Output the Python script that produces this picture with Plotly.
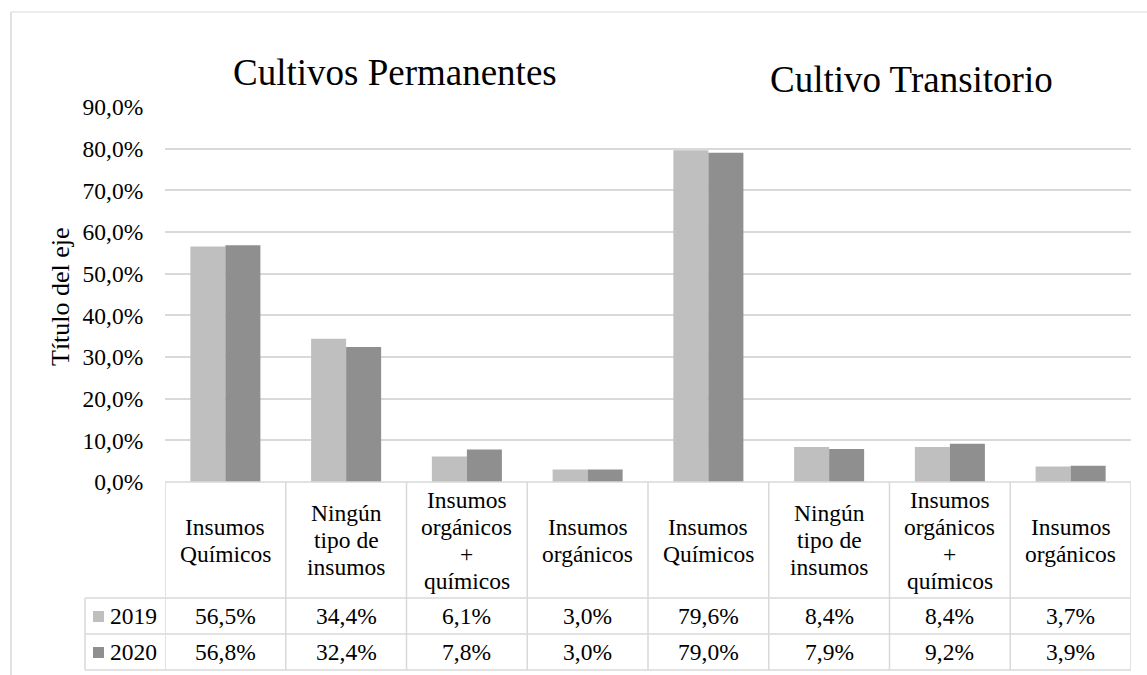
import plotly.graph_objects as go

# ---------------- data ----------------
categories = [
    "Insumos<br>Químicos",
    "Ningún<br>tipo de<br>insumos",
    "Insumos<br>orgánicos<br>+<br>químicos",
    "Insumos<br>orgánicos",
    "Insumos<br>Químicos",
    "Ningún<br>tipo de<br>insumos",
    "Insumos<br>orgánicos<br>+<br>químicos",
    "Insumos<br>orgánicos",
]
group_titles = ["Cultivos Permanentes", "Cultivo Transitorio"]
series_names = ["2019", "2020"]
values_2019 = [56.5, 34.4, 6.1, 3.0, 79.6, 8.4, 8.4, 3.7]
values_2020 = [56.8, 32.4, 7.8, 3.0, 79.0, 7.9, 9.2, 3.9]
y_axis_title = "Título del eje"

# ---------------- layout helpers ----------------
W, H = 1147, 675
FONT = "Liberation Serif"
GRID = "#D9D9D9"
COLORS = ["#BFBFBF", "#8F8F8F"]


def px(x):
    return x / W


def py(y):
    return 1 - y / H


PLOT_L, PLOT_R = 165, 1131
PLOT_T, PLOT_B = 107, 482
ROW1, ROW2, ROW3 = 598, 634, 670
LEG_L = 85
LINE_STEP = 27

xs = list(range(len(categories)))
series = [values_2019, values_2020]

fig = go.Figure()
for name, vals, col in zip(series_names, series, COLORS):
    fig.add_trace(go.Bar(
        x=xs, y=[v / 100 for v in vals], name=name,
        marker=dict(color=col, line=dict(width=0)),
        hoverinfo="skip",
    ))

shapes = []
ann = []
line = dict(color=GRID, width=1.5)

n = len(categories)
for i in range(n + 1):
    shapes.append(dict(type="line", xref="x", yref="paper",
                       x0=i - 0.5, x1=i - 0.5, y0=py(PLOT_B), y1=py(ROW3), line=line))
shapes.append(dict(type="line", xref="paper", yref="paper",
                   x0=px(PLOT_L), x1=px(PLOT_R), y0=py(PLOT_B), y1=py(PLOT_B), line=line))
for yy in (ROW1, ROW2, ROW3):
    shapes.append(dict(type="line", xref="paper", yref="paper",
                       x0=px(LEG_L), x1=px(PLOT_R), y0=py(yy), y1=py(yy), line=line))
shapes.append(dict(type="line", xref="paper", yref="paper",
                   x0=px(LEG_L), x1=px(LEG_L), y0=py(ROW1), y1=py(ROW3), line=line))
# outer chart frame (cropped by the image edges)
shapes.append(dict(type="line", xref="paper", yref="paper",
                   x0=px(11), x1=px(11), y0=py(12), y1=0, line=dict(color=GRID, width=1.5)))
shapes.append(dict(type="line", xref="paper", yref="paper",
                   x0=px(11), x1=1, y0=py(12), y1=py(12), line=dict(color="#E6E6E6", width=1.5)))

row_centers = [(ROW1 + ROW2) / 2, (ROW2 + ROW3) / 2]
for name, col, yc in zip(series_names, COLORS, row_centers):
    shapes.append(dict(type="rect", xref="paper", yref="paper",
                       x0=px(93), x1=px(104), y0=py(yc + 6), y1=py(yc - 5),
                       fillcolor=col, line=dict(width=0)))
    ann.append(dict(xref="paper", yref="paper", x=px(108), y=py(yc),
                    xanchor="left", yanchor="middle", text=name, showarrow=False,
                    font=dict(family=FONT, size=23.5, color="#000")))

# category labels, one annotation per text line
hdr_c = (PLOT_B + ROW1) / 2
for i, c in enumerate(categories):
    parts = c.split("<br>")
    m = len(parts)
    for k, part in enumerate(parts):
        yc = hdr_c + (k - (m - 1) / 2) * LINE_STEP
        ann.append(dict(xref="x", yref="paper", x=i, y=py(yc),
                        xanchor="center", yanchor="middle", text=part, showarrow=False,
                        font=dict(family=FONT, size=23.5, color="#000")))

for vals, yc in zip(series, row_centers):
    for i, v in enumerate(vals):
        ann.append(dict(xref="x", yref="paper", x=i, y=py(yc),
                        xanchor="center", yanchor="middle",
                        text=f"{v:.1f}%".replace(".", ","), showarrow=False,
                        font=dict(family=FONT, size=23.5, color="#000")))

ann.append(dict(xref="paper", yref="paper", x=px(395), y=py(73),
                xanchor="center", yanchor="middle", text=group_titles[0], showarrow=False,
                font=dict(family=FONT, size=37, color="#000")))
ann.append(dict(xref="paper", yref="paper", x=px(911), y=py(79),
                xanchor="center", yanchor="middle", text=group_titles[1], showarrow=False,
                font=dict(family=FONT, size=37, color="#000")))

ann.append(dict(xref="paper", yref="paper", x=px(60), y=py(296),
                xanchor="center", yanchor="middle", text=y_axis_title, textangle=-90,
                showarrow=False, font=dict(family=FONT, size=26, color="#000")))

fig.update_layout(
    width=W, height=H,
    margin=dict(l=0, r=0, t=0, b=0, pad=0, autoexpand=False),
    paper_bgcolor="white", plot_bgcolor="white",
    separators=",.",
    barmode="group", bargap=0.42, bargroupgap=0,
    showlegend=False,
    font=dict(family=FONT, color="#000"),
    xaxis=dict(domain=[px(PLOT_L), px(PLOT_R)], range=[-0.5, n - 0.5],
               showticklabels=False, showgrid=False, zeroline=False, showline=False,
               automargin=False, fixedrange=True),
    yaxis=dict(domain=[py(PLOT_B), py(PLOT_T)], range=[0, 0.9],
               tickvals=[i / 10 for i in range(10)], tickformat=".1%",
               showgrid=True, gridcolor=GRID, gridwidth=1.5,
               zeroline=False, showline=False,
               ticks="outside", ticklen=16, tickcolor="rgba(0,0,0,0)",
               tickfont=dict(family=FONT, size=23.5, color="#000"),
               automargin=False, fixedrange=True),
    shapes=shapes, annotations=ann,
)

post = "document.body.style.margin='0';document.body.style.overflow='hidden';"
fig.write_html("out.html", config={"displayModeBar": False}, post_script=post)
